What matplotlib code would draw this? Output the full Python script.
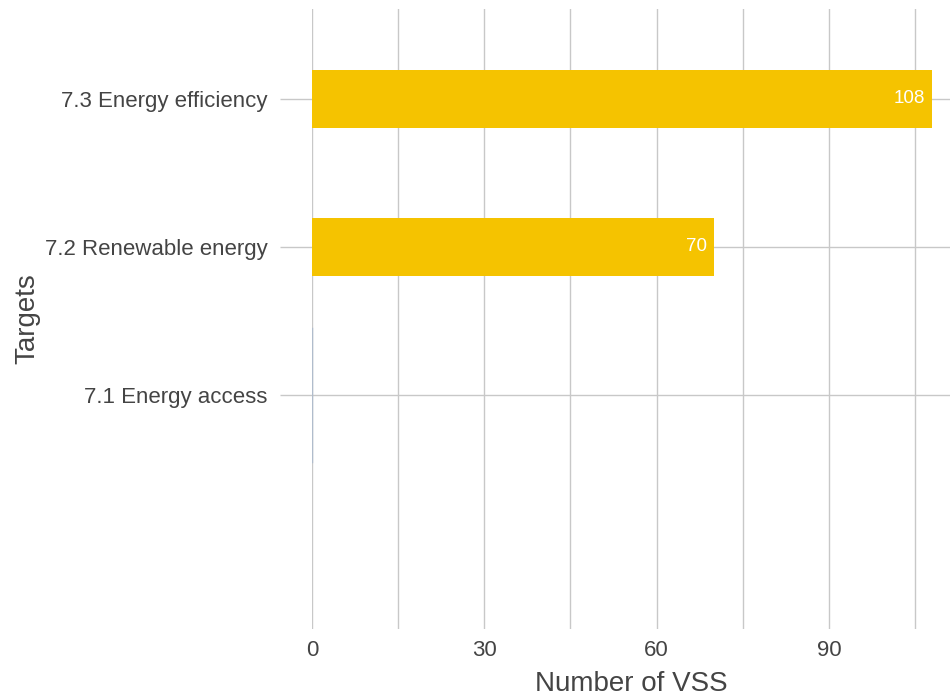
import numpy as np
import matplotlib
matplotlib.use("Agg")
import matplotlib.pyplot as plt

# data
targets = ["7.3 Energy efficiency", "7.2 Renewable energy", "7.1 Energy access", ""]
vss_counts = [108, 70, 0, 0]
x_ticks = [0, 30, 60, 90]

bar_color = "#F5C300"
grid_color = "#C8C8C8"
text_color = "#444444"

plt.rcParams["font.family"] = ["Liberation Sans", "DejaVu Sans"]

fig = plt.figure(figsize=(9.5, 6.99), dpi=100)
ax = fig.add_axes([312 / 950, 1 - 629 / 699, (950 - 312) / 950, (629 - 9) / 699])

ypos = np.arange(len(targets))
bars = ax.barh(ypos[:3], vss_counts[:3], height=0.39, color=bar_color, zorder=2)

# zero-size bar still shows a faint edge
ax.plot([0, 0], [ypos[2] - 0.45, ypos[2] + 0.45], color="#b0bccc", lw=1, zorder=3)

for b, v in zip(bars, vss_counts[:3]):
    if v > 0:
        ax.text(v - 1.3, b.get_y() + b.get_height() / 2, str(v),
                ha="right", va="center", color="white", fontsize=13.5, zorder=4)

ax.set_xlim(0, 111.1)
ax.set_ylim(3.581, -0.608)

ax.set_xticks(x_ticks)
ax.set_xticks(np.arange(15, 111, 30), minor=True)
ax.set_yticks(ypos[:3])
ax.set_yticklabels(targets[:3])

ax.grid(True, axis="x", which="both", color=grid_color, lw=1, zorder=0)
ax.grid(True, axis="y", color=grid_color, lw=1, zorder=0)

for s in ax.spines.values():
    s.set_visible(False)

ax.tick_params(axis="x", which="both", length=0, pad=8, labelsize=16, labelcolor=text_color)
ax.tick_params(axis="y", length=23, width=1, color=grid_color, pad=9, labelsize=16,
               labelcolor=text_color)

ax.set_xlabel("Number of VSS", fontsize=20, color=text_color, labelpad=7)
ax.set_ylabel("Targets", fontsize=20, color=text_color, labelpad=3)

fig.savefig("out.png", dpi=100)
